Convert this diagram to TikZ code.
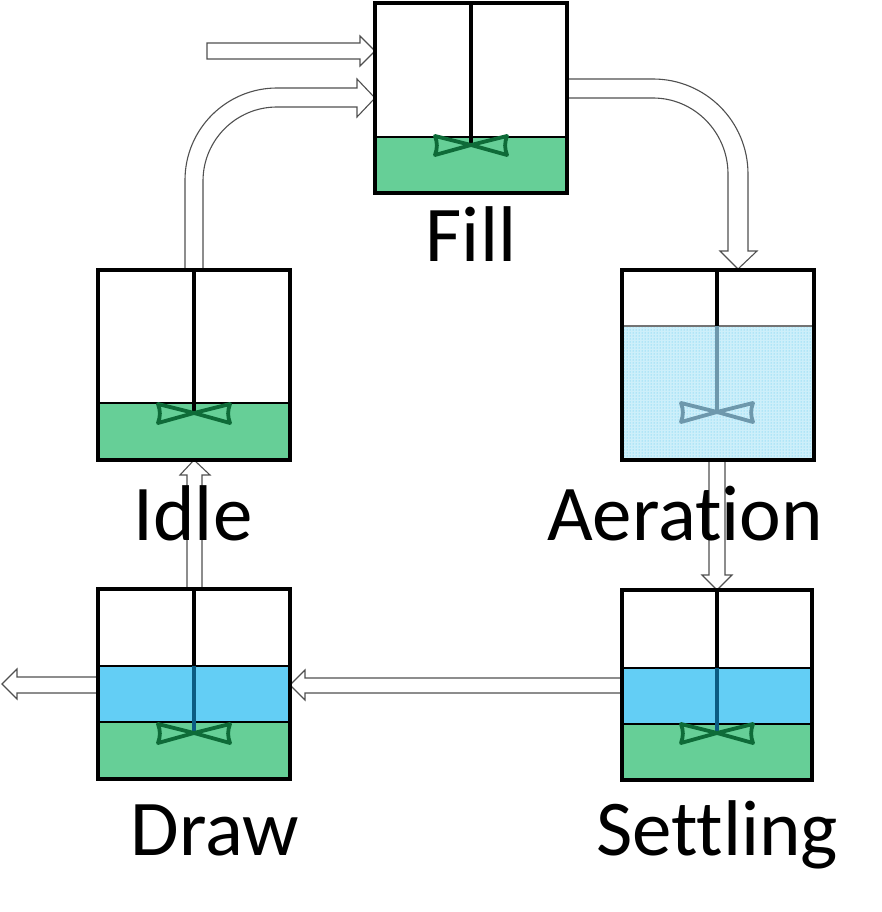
\documentclass[tikz,border=0pt]{standalone}
\usepackage{fontspec}
\setmainfont[Ligatures=NoCommon]{Carlito}
\usetikzlibrary{patterns}
\definecolor{sludge}{HTML}{66CF97}
\definecolor{clearw}{HTML}{63CEF5}
\definecolor{paddle}{HTML}{0E6B38}
\definecolor{shaftblue}{HTML}{0B5C82}
\definecolor{airwater}{HTML}{CDEFFA}
\definecolor{airdots}{HTML}{4EC6EE}
\definecolor{airpaddle}{HTML}{6E98AC}
\definecolor{arrowline}{HTML}{505050}
\newcommand{\impeller}[3]{%
  \draw[line width=3.8pt,color=#3,line join=round,line cap=round]
    (#1,#2) -- ({#1-36},{#2-9}) .. controls ({#1-33.5},{#2-2}) and ({#1-33.5},{#2+3}) .. ({#1-36},{#2+10})
    -- (#1,#2) -- ({#1+36},{#2-9}) .. controls ({#1+33.5},{#2-2}) and ({#1+33.5},{#2+3}) .. ({#1+36},{#2+10}) -- cycle;}
\begin{document}
\begin{tikzpicture}[x=1pt,y=-1pt,
  tankbox/.style={draw=black,line width=4pt,minimum width=192pt,minimum height=190pt,inner sep=0pt},
  surface/.style={draw=black,line width=1.3pt},
  shaft/.style={line width=3.5pt},
  blockarrow/.style={draw=arrowline,line width=1.1pt,fill=white,line join=miter},
  lbl/.style={font=\fontsize{79}{90}\selectfont,inner sep=0pt,anchor=base}]
\useasboundingbox (0,0) rectangle (881,912);

% ---------------- block arrows ----------------
% inlet (straight)
\draw[blockarrow] (207,43) -- (360,43) -- (360,36) -- (375,51) -- (360,66) -- (360,59) -- (207,59) -- cycle;
% Idle -> Fill (curved)
\draw[blockarrow] (185,269) -- (185,180) .. controls (185,129.2) and (226.2,88) .. (277,88)
  -- (357,88) -- (357,79) -- (375,98) -- (357,117) -- (357,107) -- (277,107)
  .. controls (236.1,107) and (203,140.1) .. (203,181) -- (203,269) -- cycle;
% Fill -> Aeration (curved)
\draw[blockarrow] (567,79) -- (653,79) .. controls (705.5,79) and (748,121.5) .. (748,174)
  -- (748,251) -- (757,251) -- (738,269) -- (720,251) -- (728,251) -- (728,174)
  .. controls (728,132.5) and (694.5,98) .. (653,98) -- (567,98) -- cycle;
% Aeration -> Settling
\draw[blockarrow] (709,460) -- (725,460) -- (725,575) -- (732,575) -- (717,590) -- (702,575) -- (709,575) -- cycle;
% Settling -> Draw
\draw[blockarrow] (622,678) -- (305,678) -- (305,670) -- (290,685) -- (305,700) -- (305,693) -- (622,693) -- cycle;
% Draw -> outlet
\draw[blockarrow] (98,677) -- (17,677) -- (17,669) -- (2,684) -- (17,699) -- (17,693) -- (98,693) -- cycle;
% Draw -> Idle
\draw[blockarrow] (187,589) -- (187,475) -- (180,475) -- (194,460) -- (210,475) -- (202,475) -- (202,589) -- cycle;

% ---------------- Fill tank ----------------
\fill[sludge] (375,137) rectangle (567,193);
\draw[surface] (375,137) -- (567,137);
\draw[shaft] (471,3) -- (471,145);
\impeller{471}{145}{paddle}
\node[tankbox] (filltank) at (471,98) {};

% ---------------- Idle tank ----------------
\fill[sludge] (98,403) rectangle (290,460);
\draw[surface] (98,403) -- (290,403);
\draw[shaft] (194,269) -- (194,413);
\impeller{194}{413}{paddle}
\node[tankbox] (idletank) at (194,364.5) {};

% ---------------- Aeration tank ----------------
\fill[airwater] (622,326) rectangle (813,460);
\fill[pattern=dots,pattern color=airdots] (622,326) rectangle (813,460);
\draw[draw=black!55,line width=1.3pt] (622,326) -- (813,326);
\draw[shaft] (717,269) -- (717,326);
\draw[shaft,color=airpaddle] (717,326) -- (717,412);
\impeller{717}{412}{airpaddle}
\node[tankbox] (aertank) at (717.5,364.5) {};

% ---------------- Draw tank ----------------
\fill[clearw] (98,666) rectangle (290,722);
\fill[sludge] (98,722) rectangle (290,779);
\draw[surface] (98,666) -- (290,666);
\draw[surface] (98,722) -- (290,722);
\draw[shaft] (194,589) -- (194,666);
\draw[shaft,color=shaftblue] (194,666) -- (194,733);
\impeller{194}{733}{paddle}
\node[tankbox] (drawtank) at (194,684) {};

% ---------------- Settling tank ----------------
\fill[clearw] (622,668) rectangle (812,724);
\fill[sludge] (622,724) rectangle (812,779);
\draw[surface] (622,668) -- (812,668);
\draw[surface] (622,724) -- (812,724);
\draw[shaft] (717,590) -- (717,668);
\draw[shaft,color=shaftblue] (717,668) -- (717,733);
\impeller{717}{733}{paddle}
\node[tankbox,minimum width=190pt] (settank) at (717,684.5) {};

% ---------------- labels ----------------
\node[lbl] (lfill) at (471,261) {Fill};
\node[lbl] (lidle) at (193,540) {Idle};
\node[lbl] (laer) at (685,540) {Aeration};
\node[lbl] (ldraw) at (215,855) {Draw};
\node[lbl] (lset) at (717,855) {Settling};
\end{tikzpicture}
\end{document}
